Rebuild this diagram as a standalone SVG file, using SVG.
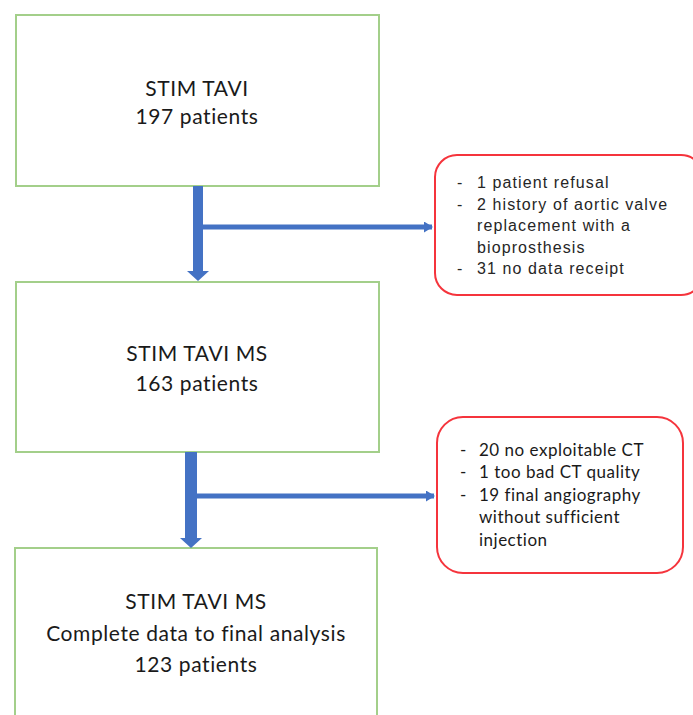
<svg xmlns="http://www.w3.org/2000/svg" width="693" height="715" viewBox="0 0 693 715">
<style>
.box{fill:#fff;stroke:#a3cf8a;stroke-width:2}
.ex{fill:#fff;stroke:#f5343c;stroke-width:2}
.bt{font-family:Lato,"Open Sans",sans-serif;font-size:21px;fill:#1a1a1a;text-anchor:middle;letter-spacing:0.6px}
.e1{font-family:"Liberation Sans",Arial,sans-serif;font-size:16px;fill:#262626;letter-spacing:1.1px}
.e2{font-family:Lato,"Open Sans",sans-serif;font-size:17px;fill:#1a1a1a;letter-spacing:0.5px}
.shaft{fill:#4472c4}
.br{stroke:#4472c4;stroke-width:5;fill:none}
</style>
<defs>
<marker id="ah" markerWidth="9" markerHeight="11" refX="8" refY="5.5" orient="auto" markerUnits="userSpaceOnUse">
<path d="M0,0 L9,5.5 L0,11 z" fill="#4472c4"/>
</marker>
</defs>
<rect width="693" height="715" fill="#fff"/>
<g id="n1">
<rect class="box" x="16" y="15" width="363" height="171"/>
<text class="bt" x="197" y="96">STIM TAVI</text>
<text class="bt" x="197" y="124">197 patients</text>
</g>
<g id="n2">
<rect class="box" x="16" y="282" width="363" height="170"/>
<text class="bt" x="197" y="361">STIM TAVI MS</text>
<text class="bt" x="197" y="391">163 patients</text>
</g>
<g id="n3">
<rect class="box" x="15" y="548" width="362" height="180"/>
<text class="bt" x="196" y="609">STIM TAVI MS</text>
<text class="bt" x="196" y="641">Complete data to final analysis</text>
<text class="bt" x="196" y="672">123 patients</text>
</g>
<g id="x1">
<rect class="ex" x="435" y="155" width="268" height="140" rx="22"/>
<text class="e1" y="188"><tspan x="457">-</tspan><tspan x="477">1 patient refusal</tspan></text>
<text class="e1" y="210"><tspan x="457">-</tspan><tspan x="477">2 history of aortic valve</tspan></text>
<text class="e1" x="477" y="231">replacement with a</text>
<text class="e1" x="477" y="253">bioprosthesis</text>
<text class="e1" y="274"><tspan x="457">-</tspan><tspan x="477">31 no data receipt</tspan></text>
</g>
<g id="x2">
<rect class="ex" x="437" y="417" width="246" height="156" rx="26"/>
<text class="e2" y="456"><tspan x="460">-</tspan><tspan x="479">20 no exploitable CT</tspan></text>
<text class="e2" y="478"><tspan x="460">-</tspan><tspan x="479">1 too bad CT quality</tspan></text>
<text class="e2" y="501"><tspan x="460">-</tspan><tspan x="479">19 final angiography</tspan></text>
<text class="e2" x="479" y="523">without sufficient</text>
<text class="e2" x="479" y="546">injection</text>
</g>
<g id="connectors">
<path class="shaft" d="M193,186 H203 V271 H209 L198,281 L187,271 H193 Z"/>
<path class="br" d="M203,227 H432" marker-end="url(#ah)"/>
<path class="shaft" d="M185,452 H197 V538 H202 L191,548 L180,538 H185 Z"/>
<path class="br" d="M197,496 H434" marker-end="url(#ah)"/>
</g>
</svg>
